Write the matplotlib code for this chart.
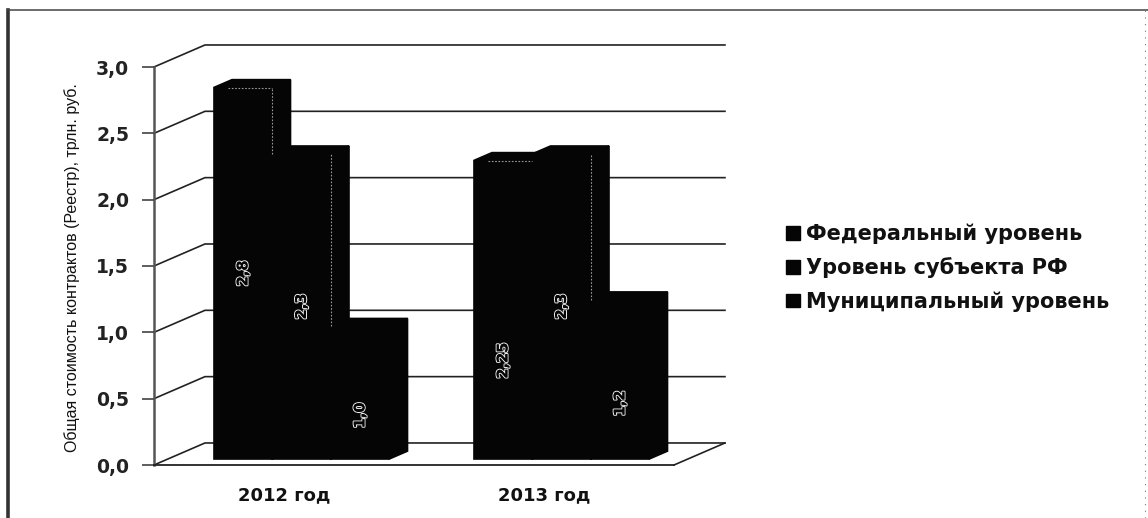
import matplotlib
matplotlib.use('Agg')
import matplotlib.pyplot as plt
import matplotlib.patheffects as pe
from matplotlib.lines import Line2D
from matplotlib.patches import Patch, Polygon

# Data
years = ['2012 год', '2013 год']
levels = ['Федеральный уровень', 'Уровень субъекта РФ', 'Муниципальный уровень']
federal = [2.8, 2.25]
regional = [2.3, 2.3]
municipal = [1.0, 1.2]
value_labels = [['2,8', '2,3', '1,0'], ['2,25', '2,3', '1,2']]
y_ticks = [0.0, 0.5, 1.0, 1.5, 2.0, 2.5, 3.0]
y_tick_labels = ['0,0', '0,5', '1,0', '1,5', '2,0', '2,5', '3,0']

# Oblique projection of the 3D box, in data units
DEPTH_X = 0.196
DEPTH_Y = 0.166
BAR_W = 0.225
FRONT = 0.27
BACK = 0.63
INK = '#050505'
GROUP_SHIFT = 0.014

# Height of each rotated label, as a share of the bar height
label_share = [[0.50, 0.50, 0.33], [0.33, 0.50, 0.35]]


def project(x, y, d):
    return x + DEPTH_X * d, y + DEPTH_Y * d


def draw_box(ax, x0, x1, h, color):
    front = [project(x0, 0, FRONT), project(x1, 0, FRONT), project(x1, h, FRONT), project(x0, h, FRONT)]
    side = [project(x1, 0, FRONT), project(x1, 0, BACK), project(x1, h, BACK), project(x1, h, FRONT)]
    top = [project(x0, h, FRONT), project(x1, h, FRONT), project(x1, h, BACK), project(x0, h, BACK)]
    for pts in (front, side, top):
        ax.add_patch(Polygon(pts, closed=True, facecolor=color, edgecolor=color,
                             linewidth=1.2, clip_on=False, zorder=3))


fig = plt.figure(figsize=(11.48, 5.18), dpi=100, facecolor='white')
# 154..674 px across, 465..67 px down
ax = fig.add_axes([154 / 1148, (518 - 465) / 518, 520 / 1148, 398 / 518])
ax.set_xlim(0, 2)
ax.set_ylim(0, 3)
ax.patch.set_visible(False)

# Back wall gridlines and the left wall diagonals
for v in y_ticks:
    ax.plot([0, DEPTH_X, 2 + DEPTH_X], [v, v + DEPTH_Y, v + DEPTH_Y], color='#222222',
            linewidth=1.2, clip_on=False, zorder=1)
# Floor edge on the right
ax.plot([2, 2 + DEPTH_X], [0, DEPTH_Y], color='#222222', linewidth=1.2, clip_on=False, zorder=1)

# Columns
series = [federal, regional, municipal]
for i, center in enumerate([0.5, 1.5]):
    start = center + GROUP_SHIFT - 1.5 * BAR_W
    for j, values in enumerate(series):
        draw_box(ax, start + j * BAR_W, start + (j + 1) * BAR_W, values[i], INK)

    # Pale edges between neighbouring columns
    for j, values in enumerate(series[:2]):
        ex = start + (j + 1) * BAR_W
        low = min(values[i], series[j + 1][i])
        xa, ya = project(ex, low, FRONT)
        xb, yb = project(ex, values[i], FRONT)
        if yb > ya:
            ax.plot([xa, xb], [ya, yb], color='#9a9a9a', linewidth=0.8, linestyle=(0, (1.5, 1.5)),
                    zorder=4, clip_on=False)
        xc, yc = project(ex - BAR_W * 0.75, values[i], FRONT)
        if j == 0:
            ax.plot([xc, xb], [yc, yb], color='#9a9a9a', linewidth=0.8, linestyle=(0, (1.5, 1.5)),
                    zorder=4, clip_on=False)

    # Value labels, white outline on the dark columns
    for j, values in enumerate(series):
        lx, ly = project(start + (j + 0.5) * BAR_W, values[i] * label_share[i][j], FRONT)
        ax.text(lx, ly, value_labels[i][j], rotation=90, ha='center', va='center', fontsize=10.5,
                color=INK, fontweight='bold', zorder=5,
                path_effects=[pe.withStroke(linewidth=1.6, foreground='#e8e8e8'),
                              pe.Normal()])

# Axes
for name in ('top', 'right'):
    ax.spines[name].set_visible(False)
ax.spines['left'].set(color='#555555', linewidth=1.8, zorder=2)
ax.spines['bottom'].set(color='#222222', linewidth=1.3, zorder=2)
ax.set_yticks(y_ticks)
ax.set_yticklabels(y_tick_labels, fontsize=13.5, fontweight='bold', color='#222222',
                   family='DejaVu Sans')
ax.tick_params(axis='y', length=9, width=1.1, color='#333333', pad=9)
ax.set_xticks([0.5, 1.5])
ax.set_xticklabels(years, fontsize=13, fontweight='bold', color='#111111', family='DejaVu Sans')
ax.tick_params(axis='x', length=0, pad=15)
ax.set_ylabel('Общая стоимость контрактов (Реестр), трлн. руб.', fontsize=11.5,
              family='Liberation Sans', color='#111111')
ax.yaxis.set_label_coords(-0.143, 0.495)

# Legend
handles = [Patch(facecolor=INK, edgecolor=INK, label=name) for name in levels]
fig.legend(handles=handles, loc='center left', bbox_to_anchor=(0.668, 0.483), frameon=False,
           handlelength=0.7, handleheight=0.6, handletextpad=0.3, labelspacing=0.62,
           prop={'family': 'DejaVu Sans', 'weight': 'bold', 'size': 15}, labelcolor='#111111')

# Scanned page border
fig.add_artist(Line2D([8 / 1148, 8 / 1148], [0, 1 - 10 / 518], color='#333333', linewidth=2.6))
fig.add_artist(Line2D([8 / 1148, 1], [1 - 10 / 518, 1 - 10 / 518], color='#444444', linewidth=1.1))
fig.add_artist(Line2D([1145 / 1148, 1145 / 1148], [0, 1 - 10 / 518], color='#777777', linewidth=0.8,
                      linestyle=(0, (1, 5))))

fig.savefig('out.png', dpi=100)
plt.close(fig)
